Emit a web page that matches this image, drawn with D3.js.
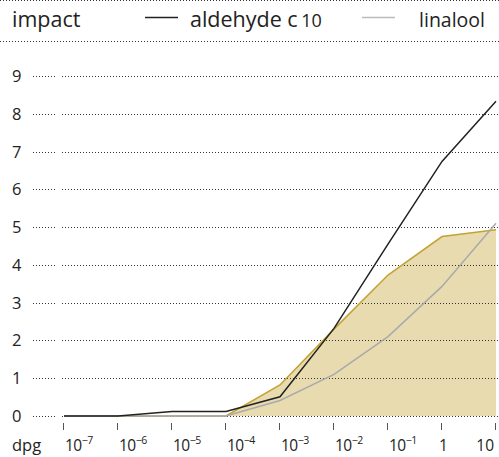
<!DOCTYPE html>
<html><head><meta charset="utf-8">
<script src="https://cdn.jsdelivr.net/npm/d3@7"></script>
<style>
html,body{margin:0;padding:0;background:#fff;}
svg{display:block;font-family:"Open Sans",sans-serif;}
</style></head>
<body><svg id="c" width="499" height="457"></svg>
<script>
const exponents = [-7,-6,-5,-4,-3,-2,-1,0,1];
const yTicks = [0,1,2,3,4,5,6,7,8,9];
const impactArea = [0,0,0,0,0.82,2.3,3.73,4.75,4.93];
const aldehydeC10 = [0,0,0.12,0.12,0.51,2.32,4.55,6.74,8.33];
const linalool = [0,0,0,0,0.41,1.1,2.1,3.43,5.1];

const svg = d3.select("#c");
const x = d3.scaleLinear().domain([-7,1]).range([64,496]);
const y = d3.scaleLinear().domain([0,9]).range([416,76]);
const dots = "1,2";

// header lines
svg.append("line").attr("x1",0).attr("x2",499).attr("y1",0.5).attr("y2",0.5)
  .attr("stroke","#333").attr("stroke-dasharray",dots);
svg.append("line").attr("x1",0).attr("x2",499).attr("y1",41.5).attr("y2",41.5)
  .attr("stroke","#333").attr("stroke-dasharray",dots);

svg.append("text").attr("x",12).attr("y",27).attr("font-size",21.5).attr("fill","#222").text("impact");
svg.append("line").attr("x1",145).attr("x2",178).attr("y1",17.5).attr("y2",17.5).attr("stroke","#222").attr("stroke-width",1.5);
const t1 = svg.append("text").attr("x",190).attr("y",27).attr("font-size",21.5).attr("fill","#222");
t1.append("tspan").text("aldehyde c\u2009");
t1.append("tspan").attr("font-size",18).text("10");
svg.append("line").attr("x1",362).attr("x2",395).attr("y1",17.5).attr("y2",17.5).attr("stroke","#bbb").attr("stroke-width",1.5);
svg.append("text").attr("x",485).attr("y",27).attr("text-anchor","end").attr("font-size",19.5).attr("fill","#222").text("linalool");

// area
svg.append("path").datum(impactArea)
  .attr("fill","#e8dbb0")
  .attr("d", d3.area().x((d,i)=>x(exponents[i])).y0(y(0)).y1(d=>y(d)));

// gridlines
const g = svg.append("g");
yTicks.forEach(v=>{
  const yy = Math.round(y(v))+0.5;
  g.append("line").attr("x1",33).attr("x2",56).attr("y1",yy).attr("y2",yy)
    .attr("stroke","#333").attr("stroke-dasharray",dots);
  g.append("line").attr("x1",62).attr("x2",499).attr("y1",yy).attr("y2",yy)
    .attr("stroke","#333").attr("stroke-dasharray",dots);
  g.append("text").attr("x",12).attr("y",y(v)+6).attr("font-size",16.5).attr("fill","#222").text(v);
});

// lines
const line = d3.line().x((d,i)=>x(exponents[i])).y(d=>y(d));
svg.append("path").datum(impactArea).attr("fill","none").attr("stroke","#c4a232").attr("stroke-width",1.5).attr("d",line);
svg.append("path").datum(linalool).attr("fill","none").attr("stroke","#aaa").attr("stroke-width",1.5).attr("d",line);
svg.append("path").datum(aldehydeC10).attr("fill","none").attr("stroke","#222").attr("stroke-width",1.5).attr("d",line);

// x ticks
exponents.forEach(e=>{
  const px = Math.round(x(e))-0.5;
  svg.append("line").attr("x1",px).attr("x2",px).attr("y1",423).attr("y2",430).attr("stroke","#555").attr("stroke-width",1);
  let tx = svg.append("text").attr("y",451).attr("font-size",15.5).attr("fill","#222");
  if (e === 1) { tx.attr("x",494).attr("text-anchor","end").text("10"); }
  else if (e === 0) { tx.attr("x",x(e)-3).text("1"); }
  else {
    tx.attr("x",x(e)+1).attr("letter-spacing",-0.5);
    tx.append("tspan").text("10");
    tx.append("tspan").attr("font-size",10.5).attr("dy",-7).text("\u2212"+(-e));
  }
});
svg.append("text").attr("x",12).attr("y",451).attr("font-size",16.5).attr("fill","#222").text("dpg");
</script></body></html>
